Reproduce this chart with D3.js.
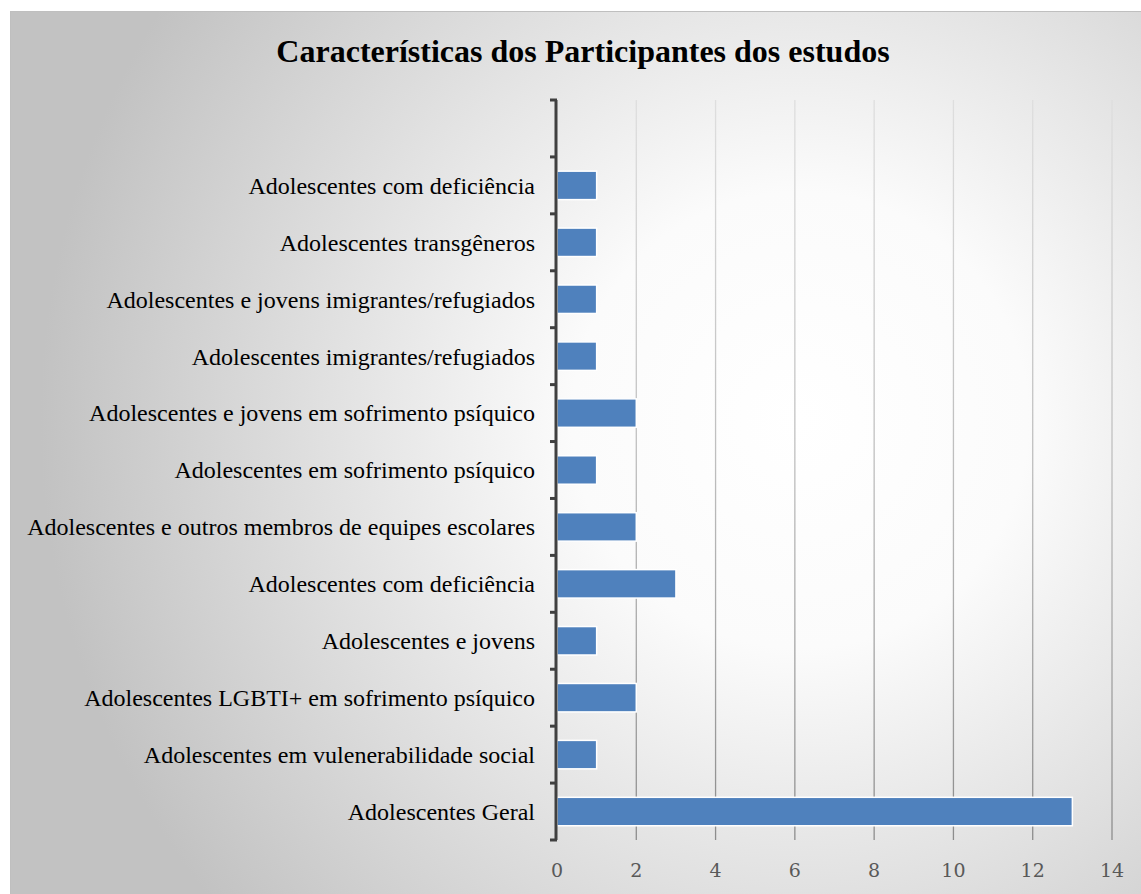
<!DOCTYPE html>
<html><head><meta charset="utf-8">
<script src="https://cdn.jsdelivr.net/npm/d3@7"></script>
<style>body{margin:0;background:#fff;overflow:hidden}</style>
</head><body>
<script>
const categories = [
  "",
  "Adolescentes com deficiência",
  "Adolescentes transgêneros",
  "Adolescentes e jovens imigrantes/refugiados",
  "Adolescentes imigrantes/refugiados",
  "Adolescentes e jovens em sofrimento psíquico",
  "Adolescentes em sofrimento psíquico",
  "Adolescentes e outros membros de equipes escolares",
  "Adolescentes com deficiência",
  "Adolescentes e jovens",
  "Adolescentes LGBTI+ em sofrimento psíquico",
  "Adolescentes em vulenerabilidade social",
  "Adolescentes Geral"
];
const values = [null, 1, 1, 1, 1, 2, 1, 2, 3, 1, 2, 1, 13];
const xTicks = [0, 2, 4, 6, 8, 10, 12, 14];
const title = "Características dos Participantes dos estudos";

const W = 1141, H = 894;
const svg = d3.select("body").append("svg").attr("width", W).attr("height", H);
const defs = svg.append("defs");
const rg = defs.append("radialGradient").attr("id","bg")
  .attr("gradientUnits","userSpaceOnUse").attr("cx",800).attr("cy",420).attr("r",760);
rg.append("stop").attr("offset","0%").attr("stop-color","#ffffff");
rg.append("stop").attr("offset","30%").attr("stop-color","#fbfbfb");
rg.append("stop").attr("offset","100%").attr("stop-color","#c2c2c2");

const gg = defs.append("linearGradient").attr("id","grid")
  .attr("gradientUnits","userSpaceOnUse").attr("x1",0).attr("y1",100).attr("x2",0).attr("y2",840);
gg.append("stop").attr("offset","0%").attr("stop-color","#dedede");
gg.append("stop").attr("offset","50%").attr("stop-color","#bdbdbd");
gg.append("stop").attr("offset","100%").attr("stop-color","#8c8c8c");

svg.append("rect").attr("x",10.5).attr("y",11.5).attr("width",W).attr("height",H)
  .attr("fill","url(#bg)").attr("stroke","#bfbfbf");

svg.append("text").attr("x",583).attr("y",62).attr("text-anchor","middle")
  .attr("font-family","'Liberation Serif','Times New Roman',serif")
  .attr("font-weight","bold").attr("font-size",32).attr("fill","#000").text(title);

const x = d3.scaleLinear().domain([0,14]).range([557,1112]);
const y = d3.scaleBand().domain(d3.range(categories.length)).range([100,840]).paddingInner(0.5).paddingOuter(0.25);

// gridlines
svg.append("g").selectAll("line").data(xTicks.filter(d=>d>0)).join("line")
  .attr("x1",d=>x(d)).attr("x2",d=>x(d)).attr("y1",100).attr("y2",840)
  .attr("stroke","url(#grid)").attr("stroke-width",1.3);

// bars
svg.append("g").selectAll("rect").data(values.map((v,i)=>({v,i})).filter(d=>d.v!=null)).join("rect")
  .attr("x",x(0)).attr("y",d=>y(d.i)).attr("width",d=>x(d.v)-x(0)).attr("height",y.bandwidth())
  .attr("fill","#4f81bd").attr("stroke","#ffffff").attr("stroke-width",1.5);

// y axis
const step = y.step();
const yAxis = svg.append("g");
yAxis.append("line").attr("x1",556).attr("x2",556).attr("y1",100).attr("y2",840)
  .attr("stroke","#404040").attr("stroke-width",3);
yAxis.selectAll("line.t").data(d3.range(categories.length+1)).join("line").attr("class","t")
  .attr("x1",550).attr("x2",557).attr("y1",i=>100+i*step).attr("y2",i=>100+i*step)
  .attr("stroke","#404040").attr("stroke-width",3);
yAxis.selectAll("text").data(categories.map((c,i)=>({c,i}))).join("text")
  .attr("x",535).attr("y",d=>y(d.i)+y.bandwidth()/2).attr("dy","0.35em")
  .attr("text-anchor","end").attr("font-family","'Liberation Serif','Times New Roman',serif")
  .attr("font-size",24).attr("fill","#000").text(d=>d.c);

// x tick labels
svg.append("g").selectAll("text").data(xTicks).join("text")
  .attr("x",d=>x(d)).attr("y",870).attr("dy","0.35em").attr("text-anchor","middle")
  .attr("font-family","'DejaVu Serif',serif").attr("font-size",19)
  .attr("fill","#595959").text(d=>d);
</script>
</body></html>
